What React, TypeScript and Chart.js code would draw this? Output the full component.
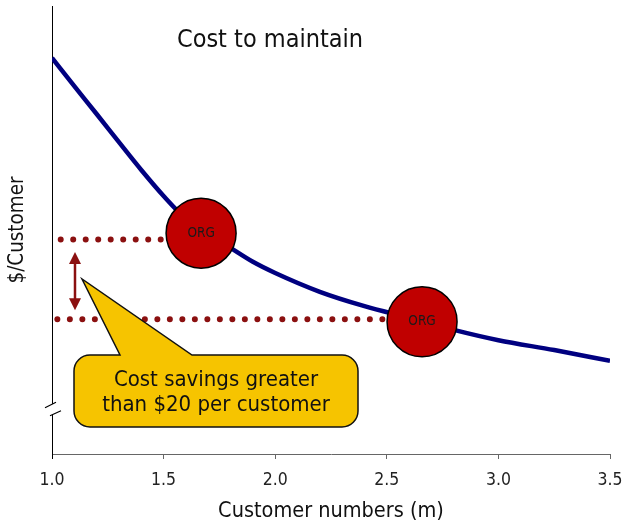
import React, { useEffect, useRef } from 'react';
import { Chart, registerables } from 'chart.js';

Chart.register(...registerables);

const FONT = "'DejaVu Sans Condensed', 'DejaVu Sans', sans-serif";

// Cost per customer curve
const customerNumbers = [1.0, 1.1, 1.2, 1.3, 1.4, 1.5, 1.6, 1.7, 1.8, 1.9, 2.0, 2.2, 2.4, 2.6, 2.8, 3.0, 3.25, 3.5];
const costPerCustomer = [88.4, 82.1, 75.9, 69.6, 63.4, 57.6, 52.5, 49.1, 46.0, 42.9, 40.4, 36.2, 33.0, 30.4, 27.7, 25.4, 23.2, 20.8];

// ORG markers
const orgLabels = ['ORG', 'ORG'];
const orgX = [1.668, 2.658];
const orgY = [49.3, 29.5];

// dotted reference levels
const refLevels = [47.9, 30.1];
const refStartX = [1.039, 1.024];
const refEndX = [1.488, 2.483];
const arrowX = 1.103;

const xTicks = [1.0, 1.5, 2.0, 2.5, 3.0, 3.5];
const yRange = [0, 100];

const titleText = 'Cost to maintain';
const xTitle = 'Customer numbers (m)';
const yTitle = '$/Customer';
const calloutLines = ['Cost savings greater', 'than $20 per customer'];

export default function App() {
  const ref = useRef<HTMLCanvasElement>(null);

  useEffect(() => {
    if (!ref.current) return;
    const overlay = {
      id: 'overlay',
      afterDatasetsDraw(chart: any) {
        const ctx = chart.ctx as CanvasRenderingContext2D;
        const xs = chart.scales.x;
        const ys = chart.scales.y;
        ctx.save();
        // ORG labels
        const meta = chart.getDatasetMeta(0);
        ctx.font = `13.5px ${FONT}`;
        ctx.fillStyle = '#1a1a1a';
        ctx.textAlign = 'center';
        ctx.textBaseline = 'middle';
        meta.data.forEach((pt: any, i: number) => ctx.fillText(orgLabels[i], pt.x, pt.y));

        // double arrow
        const ax = xs.getPixelForValue(arrowX);
        const yTop = ys.getPixelForValue(refLevels[0]) + 12.5;
        const yBot = ys.getPixelForValue(refLevels[1]) - 9;
        ctx.strokeStyle = '#8B1010';
        ctx.fillStyle = '#8B1010';
        ctx.lineWidth = 2.5;
        ctx.beginPath();
        ctx.moveTo(ax, yTop + 8);
        ctx.lineTo(ax, yBot - 8);
        ctx.stroke();
        ctx.beginPath();
        ctx.moveTo(ax, yTop);
        ctx.lineTo(ax - 6, yTop + 12);
        ctx.lineTo(ax + 6, yTop + 12);
        ctx.closePath();
        ctx.fill();
        ctx.beginPath();
        ctx.moveTo(ax, yBot);
        ctx.lineTo(ax - 6, yBot - 12);
        ctx.lineTo(ax + 6, yBot - 12);
        ctx.closePath();
        ctx.fill();

        // callout
        const L = 74, R = 358, T = 355, B = 427, r = 16;
        ctx.beginPath();
        ctx.moveTo(L + r, T);
        ctx.lineTo(120, T);
        ctx.lineTo(82, 279);
        ctx.lineTo(192, T);
        ctx.lineTo(R - r, T);
        ctx.arcTo(R, T, R, T + r, r);
        ctx.lineTo(R, B - r);
        ctx.arcTo(R, B, R - r, B, r);
        ctx.lineTo(L + r, B);
        ctx.arcTo(L, B, L, B - r, r);
        ctx.lineTo(L, T + r);
        ctx.arcTo(L, T, L + r, T, r);
        ctx.closePath();
        ctx.fillStyle = '#F6C400';
        ctx.fill();
        ctx.strokeStyle = '#111';
        ctx.lineWidth = 1.5;
        ctx.stroke();
        ctx.fillStyle = '#111';
        ctx.font = `22px ${FONT}`;
        ctx.textBaseline = 'alphabetic';
        ctx.fillText(calloutLines[0], 216, 385.5);
        ctx.fillText(calloutLines[1], 216, 410.5);
        ctx.restore();
      },
      afterDraw(chart: any) {
        const ctx = chart.ctx as CanvasRenderingContext2D;
        ctx.save();
        // axis break
        ctx.fillStyle = '#fff';
        ctx.beginPath();
        ctx.moveTo(45, 407.7);
        ctx.lineTo(56, 402.3);
        ctx.lineTo(61, 410.7);
        ctx.lineTo(50, 415.7);
        ctx.closePath();
        ctx.fill();
        ctx.strokeStyle = '#000';
        ctx.lineWidth = 1.2;
        ctx.beginPath();
        ctx.moveTo(45, 407.7);
        ctx.lineTo(56, 402.3);
        ctx.moveTo(50, 415.7);
        ctx.lineTo(61, 410.7);
        ctx.stroke();
        // title
        ctx.fillStyle = '#111';
        ctx.font = `25px ${FONT}`;
        ctx.textAlign = 'center';
        ctx.textBaseline = 'alphabetic';
        ctx.fillText(titleText, 270, 46.7);
        ctx.restore();
      },
    };

    const chart = new Chart(ref.current, {
      type: 'line',
      data: {
        datasets: [
          {
            label: 'ORG',
            data: orgX.map((x, i) => ({ x, y: orgY[i] })),
            showLine: false,
            pointRadius: 35,
            pointHoverRadius: 35,
            pointBackgroundColor: '#C00000',
            pointBorderColor: '#000',
            pointBorderWidth: 1.5,
            pointHoverBorderWidth: 1.5,
            order: 0,
          },
          {
            label: 'Cost',
            data: customerNumbers.map((x, i) => ({ x, y: costPerCustomer[i] })),
            borderColor: '#000080',
            borderWidth: 4.5,
            pointRadius: 0,
            cubicInterpolationMode: 'monotone',
            fill: false,
            order: 1,
          },
          ...refLevels.map((lv, i) => ({
            label: 'ref' + i,
            data: [
              { x: refStartX[i], y: lv },
              { x: refEndX[i], y: lv },
            ],
            borderColor: '#8B1010',
            borderWidth: 6,
            borderDash: [0, 12.5],
            borderCapStyle: 'round',
            pointRadius: 0,
            fill: false,
            order: 2,
          })),
        ] as any,
      },
      options: {
        responsive: false,
        animation: false,
        events: [],
        layout: { autoPadding: false, padding: { top: 6, right: 12, left: 0, bottom: 0 } },
        plugins: {
          legend: { display: false },
          tooltip: { enabled: false },
          title: { display: false },
        },
        scales: {
          x: {
            type: 'linear',
            min: xTicks[0],
            max: xTicks[xTicks.length - 1],
            afterBuildTicks: (s: any) => {
              s.ticks = xTicks.map((v) => ({ value: v }));
            },
            ticks: {
              callback: (v: any) => Number(v).toFixed(1),
              font: { family: FONT, size: 17.5 },
              color: '#222',
              padding: 11,
              maxRotation: 0,
              autoSkip: false,
            },
            grid: {
              display: true,
              drawOnChartArea: false,
              drawTicks: true,
              tickLength: 5,
              color: (c: any) => (c.index === 0 ? '#000' : '#666'),
              tickColor: (c: any) => (c.index === 0 ? '#000' : '#666'),
              lineWidth: 1,
            },
            border: { display: true, color: '#666', width: 1 },
            title: {
              display: true,
              text: xTitle,
              font: { family: FONT, size: 21.5 },
              color: '#111',
              padding: { top: 0, bottom: 1 },
            },
            afterFit: (s: any) => {
              s.height = 71;
              s.paddingLeft = 0;
              s.paddingRight = 0;
            },
          },
          y: {
            min: yRange[0],
            max: yRange[1],
            ticks: { display: false },
            grid: { display: false },
            border: { display: true, color: '#000', width: 1 },
            title: {
              display: true,
              text: yTitle,
              font: { family: FONT, size: 20.4 },
              color: '#111',
              padding: { top: 5, bottom: 0 },
            },
            afterFit: (s: any) => {
              s.width = 52;
              s.paddingTop = 0;
              s.paddingBottom = 0;
            },
          },
        },
      } as any,
      plugins: [overlay],
    });
    return () => chart.destroy();
  }, []);

  return (
    <div style={{ position: 'fixed', left: 0, top: 0, width: 622, height: 525, background: '#fff' }}>
      <canvas ref={ref} width={622} height={525} style={{ display: 'block' }} />
    </div>
  );
}
